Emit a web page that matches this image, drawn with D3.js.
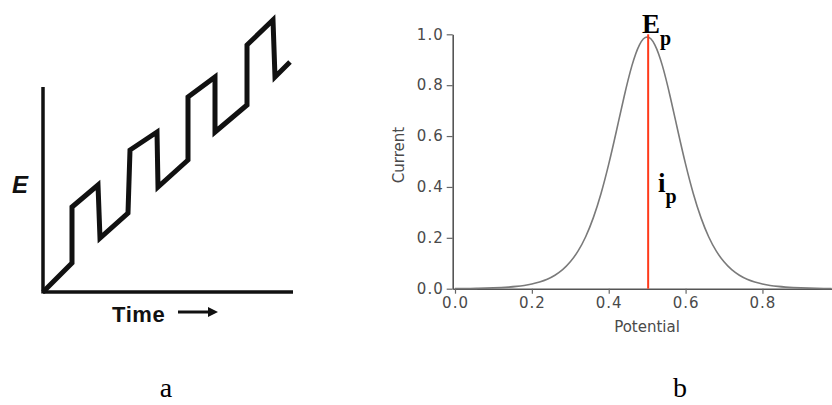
<!DOCTYPE html>
<html><head><meta charset="utf-8">
<script src="https://cdn.jsdelivr.net/npm/d3@7"></script>
<style>html,body{margin:0;padding:0;background:#fff;}svg{display:block;}</style>
</head><body>
<svg id="c" width="832" height="405"></svg>
<script>
// ---- Panel a: staircase pulse waveform (arbitrary units) ----
const waveTime = [0, 11.6, 11.6, 22, 22.8, 34, 34.8, 45.6, 46, 58, 58, 68.8, 68.8, 81.6, 81.6, 92, 92.8, 98.8];
const waveE    = [0, 11.6, 34, 42.8, 21.6, 31.6, 56.8, 64, 42, 52.8, 78, 86, 64, 74.8, 98.8, 108.8, 86, 92];

// ---- Panel b: differential pulse peak ----
const potential = [0,0.02,0.04,0.06,0.08,0.10,0.12,0.14,0.16,0.18,0.20,0.22,0.24,0.26,0.28,0.30,0.32,0.34,0.36,0.38,0.40,0.42,0.44,0.46,0.48,0.50,0.52,0.54,0.56,0.58,0.60,0.62,0.64,0.66,0.68,0.70,0.72,0.74,0.76,0.78,0.80,0.82,0.84,0.86,0.88,0.90,0.92,0.94,0.96,0.98];
const current   = [0.0005,0.0007,0.001,0.0015,0.002,0.003,0.0043,0.0061,0.0088,0.0125,0.018,0.026,0.036,0.052,0.073,0.104,0.145,0.201,0.276,0.371,0.487,0.619,0.757,0.881,0.968,1.0,0.968,0.881,0.757,0.619,0.487,0.371,0.276,0.201,0.145,0.104,0.073,0.052,0.036,0.026,0.018,0.0125,0.0088,0.0061,0.0043,0.003,0.002,0.0015,0.001,0.0007];
const xTicks = [0, 0.2, 0.4, 0.6, 0.8];
const yTicks = [0, 0.2, 0.4, 0.6, 0.8, 1.0];
const peakPotential = 0.5, peakCurrent = 1.0;

const svg = d3.select("#c");

// ===== Panel a =====
const xa = d3.scaleLinear().domain([0, 100]).range([43, 293]);
const ya = d3.scaleLinear().domain([0, 100]).range([292, 42]);
const ga = svg.append("g");
ga.append("line").attr("x1", xa(0)).attr("x2", xa(0)).attr("y1", ya(0)+1.5).attr("y2", ya(82))
  .attr("stroke", "#111").attr("stroke-width", 3.5);
ga.append("line").attr("x1", xa(0)).attr("x2", xa(100)).attr("y1", ya(0)).attr("y2", ya(0))
  .attr("stroke", "#111").attr("stroke-width", 3.5);
const wave = waveTime.map((t, i) => [t, waveE[i]]);
ga.append("path").datum(wave)
  .attr("d", d3.line().x(d => xa(d[0])).y(d => ya(d[1])))
  .attr("fill", "none").attr("stroke", "#111").attr("stroke-width", 5)
  .attr("stroke-linejoin", "miter").attr("stroke-linecap", "butt");
ga.append("text").attr("x", 20).attr("y", 193).attr("text-anchor", "middle")
  .attr("font-family", "Liberation Sans, Arial, sans-serif").attr("font-weight", "bold")
  .attr("font-style", "italic").attr("font-size", 24).attr("fill", "#111").text("E");
ga.append("text").attr("x", 112).attr("y", 322)
  .attr("font-family", "Liberation Sans, Arial, sans-serif").attr("font-weight", "bold")
  .attr("font-size", 22).attr("letter-spacing", 0.6).attr("fill", "#111").text("Time");
ga.append("line").attr("x1", 178).attr("x2", 210).attr("y1", 312).attr("y2", 312)
  .attr("stroke", "#111").attr("stroke-width", 3);
ga.append("path").attr("d", "M208,307 L218,312 L208,317 Z").attr("fill", "#111");

// ===== Panel b =====
const xb = d3.scaleLinear().domain([-0.006, 0.981]).range([452.7, 832]);
const yb = d3.scaleLinear().domain([0, 1]).range([288.7, 34.3]);
const gb = svg.append("g");
const tickFont = "DejaVu Sans, Arial, sans-serif";

const gx = gb.append("g").attr("transform", `translate(0,${yb(0)})`)
  .call(d3.axisBottom(xb).tickValues(xTicks).tickFormat(d3.format(".1f")).tickSize(5).tickPadding(4).tickSizeOuter(0));
const gy = gb.append("g").attr("transform", `translate(${xb.range()[0]},0)`)
  .call(d3.axisLeft(yb).tickValues(yTicks).tickFormat(d3.format(".1f")).tickSize(6).tickPadding(3).tickSizeOuter(0));
[gx, gy].forEach(g => {
  g.attr("font-size", 15).attr("font-family", tickFont);
  g.select(".domain").attr("stroke", "#555").attr("stroke-width", 1.6);
  g.selectAll(".tick line").attr("stroke", "#666").attr("stroke-width", 1.2);
  g.selectAll(".tick text").attr("fill", "#4a4a4a").attr("letter-spacing", 1);
});

gb.append("path").datum(potential.map((p, i) => [p, current[i]]))
  .attr("d", d3.line().curve(d3.curveBasis).x(d => xb(d[0])).y(d => yb(d[1])))
  .attr("fill", "none").attr("stroke", "#7a7a7a").attr("stroke-width", 1.6);

gb.append("line").attr("x1", xb(peakPotential)+1).attr("x2", xb(peakPotential)+1)
  .attr("y1", yb(peakCurrent)).attr("y2", yb(0))
  .attr("stroke", "#ff3a1a").attr("stroke-width", 2);

gb.append("text").attr("transform", "translate(404,155) rotate(-90)").attr("text-anchor", "middle")
  .attr("font-family", tickFont).attr("font-size", 15).attr("fill", "#4a4a4a").text("Current");
gb.append("text").attr("x", 647).attr("y", 332).attr("text-anchor", "middle")
  .attr("font-family", tickFont).attr("font-size", 15).attr("fill", "#4a4a4a").text("Potential");

const serif = "Liberation Serif, Times New Roman, serif";
const ep = gb.append("text").attr("x", 642).attr("y", 33).attr("font-family", serif)
  .attr("font-weight", "bold").attr("font-size", 27).attr("fill", "#000");
ep.append("tspan").text("E");
ep.append("tspan").attr("font-size", 20).attr("dy", 12).text("p");
const ip = gb.append("text").attr("x", 658).attr("y", 192).attr("font-family", serif)
  .attr("font-weight", "bold").attr("font-size", 27).attr("fill", "#000");
ip.append("tspan").text("i");
ip.append("tspan").attr("font-size", 20).attr("dy", 11).text("p");

// panel letters
svg.append("text").attr("x", 166).attr("y", 397).attr("text-anchor", "middle")
  .attr("font-family", serif).attr("font-size", 28).attr("fill", "#000").text("a");
svg.append("text").attr("x", 680).attr("y", 397).attr("text-anchor", "middle")
  .attr("font-family", serif).attr("font-size", 28).attr("fill", "#000").text("b");
</script>
</body></html>
